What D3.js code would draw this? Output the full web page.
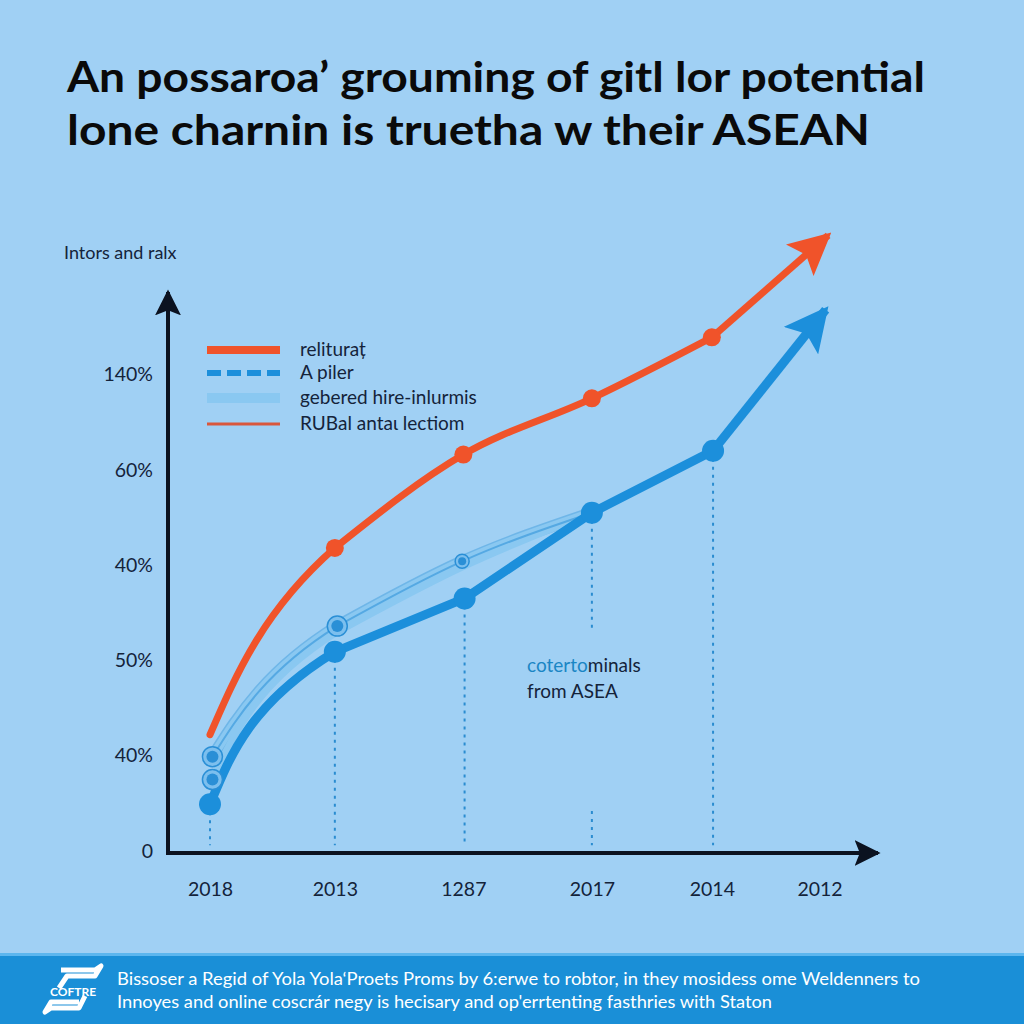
<!DOCTYPE html>
<html>
<head>
<meta charset="utf-8">
<script src="https://cdn.jsdelivr.net/npm/d3@7"></script>
<style>
  body { margin: 0; background: #a0d0f4; }
  #main { width: 1024px; height: 1024px; }
  text { font-family: Lato, "Open Sans", sans-serif; }
</style>
</head>
<body>
<div id="main"></div>
<script>
// x positions are in category units (0..5), y values in tick units (0..5)
const xLabels = ["2018", "2013", "1287", "2017", "2014", "2012"];
const xLabelPos = [0, 1.02, 2.07, 3.12, 4.1, 4.98];
const yLabels = ["0", "40%", "50%", "40%", "60%", "140%"];

const redX = [0, 1.02, 2.07, 3.12, 4.1];
const redY = [1.22, 3.18, 4.16, 4.75, 5.39];
const redTip = [5.05, 6.46];

const blueX = [0, 1.02, 2.08, 3.12, 4.11];
const blueY = [0.49, 2.09, 2.65, 3.55, 4.2];
const blueTip = [5.03, 5.68];

const lightX = [0.02, 1.04, 2.06, 3.12];
const lightY = [0.99, 2.36, 3.04, 3.55];
const light2Y = [0.75, 2.3, 2.98, 3.55];

const legendNames = ["relituraț", "A piler", "gebered hire-inlurmis", "RUBal antaι lectiom"];

const orange = "#f0532a";
const blue = "#1c8fdb";
const lightBlue = "#8ac8f1";

function drawChart() {
    const svg = d3.select("#main").append("svg")
        .attr("width", 1024)
        .attr("height", 1024);

    svg.append("rect").attr("width", 1024).attr("height", 1024).attr("fill", "#a0d0f4");

    const defs = svg.append("defs");
    function arrow(id, color, size) {
        defs.append("marker")
            .attr("id", id)
            .attr("markerUnits", "userSpaceOnUse")
            .attr("viewBox", "0 -10 20 20")
            .attr("refX", 18).attr("refY", 0)
            .attr("markerWidth", size).attr("markerHeight", size)
            .attr("orient", "auto")
            .append("path")
            .attr("d", "M0,-10L20,0L0,10L4,0Z")
            .attr("fill", color);
    }
    arrow("arRed", orange, 42);
    arrow("arBlue", blue, 44);
    arrow("arAxis", "#0b1220", 26);

    // title
    const title = svg.append("g").attr("font-weight", 700).attr("font-size", 42).attr("fill", "#0a0a0a");
    title.append("text").attr("x", 67).attr("y", 92)
        .attr("textLength", 858).attr("lengthAdjust", "spacingAndGlyphs")
        .text("An possaroa’ grouming of gitl lor potential");
    title.append("text").attr("x", 67).attr("y", 145)
        .attr("textLength", 803).attr("lengthAdjust", "spacingAndGlyphs")
        .text("lone charnin is truetha w their ASEAN");

    svg.append("text").attr("x", 64).attr("y", 259)
        .attr("font-size", 18).attr("fill", "#14233a")
        .text("Intors and ralx");

    const x = d3.scaleLinear().domain([0, 5]).range([210, 822]);
    const y = d3.scaleLinear().domain([0, 5]).range([851, 374.5]);

    // axes
    svg.append("g")
        .attr("transform", "translate(0,893)")
        .call(d3.axisBottom(x).tickValues(xLabelPos).tickFormat((d, i) => xLabels[i]).tickSize(0))
        .call(g => g.select(".domain").remove())
        .selectAll("text")
        .attr("font-family", "Lato, sans-serif")
        .attr("font-size", 19.5).attr("fill", "#14233a").attr("dy", 0);

    svg.append("g")
        .attr("transform", "translate(153,0)")
        .call(d3.axisLeft(y).tickValues(d3.range(6)).tickFormat(i => yLabels[i]).tickSize(0).tickPadding(0))
        .call(g => g.select(".domain").remove())
        .selectAll("text")
        .attr("font-family", "Lato, sans-serif")
        .attr("font-size", 19.5).attr("fill", "#14233a");

    svg.append("path")
        .attr("d", "M168,300L168,853L872,853")
        .attr("fill", "none").attr("stroke", "#0b1220").attr("stroke-width", 4);
    svg.append("path").attr("d", "M168,320L168,292").attr("stroke", "#0b1220").attr("stroke-width", 4)
        .attr("marker-end", "url(#arAxis)");
    svg.append("path").attr("d", "M850,853L878,853").attr("stroke", "#0b1220").attr("stroke-width", 4)
        .attr("marker-end", "url(#arAxis)");

    // dotted drop lines
    const drops = svg.append("g").attr("stroke", "#2a8cd0").attr("stroke-width", 2)
        .attr("stroke-dasharray", "3,5");
    blueX.forEach((d, i) => {
        if (i === 3) {
            drops.append("line").attr("x1", x(d)).attr("x2", x(d)).attr("y1", y(blueY[i])).attr("y2", y(2.3));
            drops.append("line").attr("x1", x(d)).attr("x2", x(d)).attr("y1", y(0.42)).attr("y2", y(0.06));
        } else {
            drops.append("line").attr("x1", x(d)).attr("x2", x(d)).attr("y1", y(blueY[i])).attr("y2", y(0.06));
        }
    });

    // first segment bends up steeply (monotone in y), the rest follows x
    const lineY = d3.line().x(d => x(d[0])).y(d => y(d[1])).curve(d3.curveMonotoneY);
    function curvePath(pts, tailCurve) {
        const parts = lineY(pts.slice(0, 3)).split("C");
        const head = parts[0] + "C" + parts[1];
        const lineT = d3.line().x(d => x(d[0])).y(d => y(d[1])).curve(tailCurve);
        const tail = lineT(pts.slice(1)).replace(/^M[^CL]*/, "");
        return head + tail;
    }

    // light blue pair
    const lightPts = lightX.map((d, i) => [d, lightY[i]]);
    const light2Pts = lightX.map((d, i) => [d, light2Y[i]]);
    const soft = d3.curveMonotoneX;
    svg.append("path").attr("d", curvePath(lightPts, soft)).attr("fill", "none")
        .attr("stroke", "#6fb6e8").attr("stroke-width", 12).attr("stroke-linecap", "round");
    svg.append("path").attr("d", curvePath(lightPts, soft)).attr("fill", "none")
        .attr("stroke", lightBlue).attr("stroke-width", 9).attr("stroke-linecap", "round");
    svg.append("path").attr("d", curvePath(light2Pts, soft)).attr("fill", "none")
        .attr("stroke", lightBlue).attr("stroke-width", 7).attr("stroke-linecap", "round");
    svg.append("path").attr("d", curvePath(lightPts, soft)).attr("fill", "none")
        .attr("stroke", "#55a9e3").attr("stroke-width", 2);

    // orange line
    const redPts = redX.map((d, i) => [d, redY[i]]);
    svg.append("path").attr("d", curvePath(redPts, soft)).attr("fill", "none")
        .attr("stroke", orange).attr("stroke-width", 7).attr("stroke-linecap", "round");
    svg.append("line")
        .attr("x1", x(redX[4])).attr("y1", y(redY[4]))
        .attr("x2", x(redTip[0])).attr("y2", y(redTip[1]))
        .attr("stroke", orange).attr("stroke-width", 7)
        .attr("marker-end", "url(#arRed)");
    svg.append("g").selectAll("circle").data(redPts.slice(1)).join("circle")
        .attr("cx", d => x(d[0])).attr("cy", d => y(d[1])).attr("r", 9).attr("fill", orange);

    // blue line
    const bluePts = blueX.map((d, i) => [d, blueY[i]]);
    svg.append("path").attr("d", curvePath(bluePts, d3.curveLinear)).attr("fill", "none")
        .attr("stroke", blue).attr("stroke-width", 9).attr("stroke-linecap", "round")
        .attr("stroke-linejoin", "round");
    svg.append("line")
        .attr("x1", x(blueX[4])).attr("y1", y(blueY[4]))
        .attr("x2", x(blueTip[0])).attr("y2", y(blueTip[1]))
        .attr("stroke", blue).attr("stroke-width", 9)
        .attr("marker-end", "url(#arBlue)");
    svg.append("g").selectAll("circle").data(bluePts).join("circle")
        .attr("cx", d => x(d[0])).attr("cy", d => y(d[1])).attr("r", 11).attr("fill", blue);

    // ring markers on light series
    const rings = [lightPts[0], light2Pts[0], lightPts[1], lightPts[2]];
    const rg = svg.append("g").selectAll("g").data(rings).join("g")
        .attr("transform", d => `translate(${x(d[0])},${y(d[1])})`);
    rg.append("circle").attr("r", (d, i) => i === 3 ? 7 : 10)
        .attr("fill", "#7cbfee").attr("stroke", "#2a8fd6").attr("stroke-width", 1.5);
    rg.append("circle").attr("r", (d, i) => i === 3 ? 4 : 6).attr("fill", "#2a8fd6");

    // legend
    const leg = svg.append("g").attr("transform", "translate(207,350)");
    const legStyles = [
        { color: orange, w: 8, dash: null },
        { color: blue, w: 6, dash: "14,6" },
        { color: lightBlue, w: 10, dash: null },
        { color: "#d9573c", w: 3, dash: null }
    ];
    legendNames.forEach((name, i) => {
        const gy = [0, 23, 48, 74][i];
        leg.append("line").attr("x1", 0).attr("x2", 73).attr("y1", gy).attr("y2", gy)
            .attr("stroke", legStyles[i].color).attr("stroke-width", legStyles[i].w)
            .attr("stroke-dasharray", legStyles[i].dash);
        leg.append("text").attr("x", 93).attr("y", gy + 6)
            .attr("font-size", 19).attr("fill", "#14233a").text(name);
    });

    // annotation
    const ann = svg.append("text").attr("x", 527).attr("y", 672).attr("font-size", 19).attr("fill", "#14233a");
    ann.append("tspan").attr("fill", "#1a86c4").text("coterto");
    ann.append("tspan").text("minals");
    svg.append("text").attr("x", 527).attr("y", 698).attr("font-size", 19).attr("fill", "#14233a")
        .text("from ASEA");

    // footer
    svg.append("rect").attr("x", 0).attr("y", 953).attr("width", 1024).attr("height", 71).attr("fill", "#1a8fd7");
    svg.append("rect").attr("x", 0).attr("y", 953).attr("width", 1024).attr("height", 3).attr("fill", "#5cb6ee");
    const logo = svg.append("g").attr("transform", "translate(45,966)");
    logo.append("path")
        .attr("d", "M16,4L50,4L56,0L50,10L22,10L14,22M40,30L34,42L6,42L0,46L6,36L34,36")
        .attr("fill", "none").attr("stroke", "#fff").attr("stroke-width", 5).attr("stroke-linejoin", "round");
    logo.append("text").attr("x", 28).attr("y", 30).attr("text-anchor", "middle")
        .attr("font-family", "'DejaVu Sans Condensed', sans-serif").attr("font-weight", 700)
        .attr("font-size", 12).attr("fill", "#fff").text("COFTRE");
    const foot = svg.append("g").attr("font-family", "Roboto, sans-serif").attr("font-size", 16.5).attr("fill", "#fff");
    foot.append("text").attr("x", 117).attr("y", 985)
        .attr("textLength", 803).attr("lengthAdjust", "spacingAndGlyphs")
        .text("Bissoser a Regid of Yola Yola‘Proets Proms by 6:erwe to robtor, in they mosidess ome Weldenners to");
    foot.append("text").attr("x", 117).attr("y", 1008)
        .attr("textLength", 655).attr("lengthAdjust", "spacingAndGlyphs")
        .text("Innoyes and online coscrár negy is hecisary and op'errtenting fasthries with Staton");
}

document.addEventListener("DOMContentLoaded", drawChart);
</script>
</body>
</html>
